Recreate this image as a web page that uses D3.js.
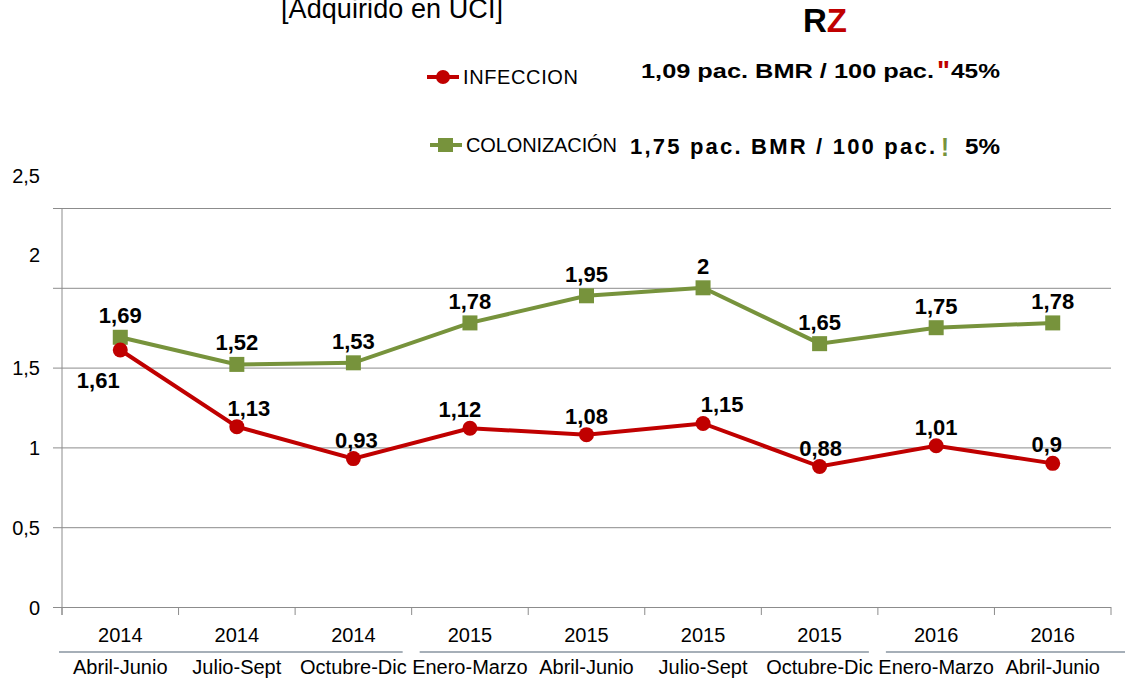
<!DOCTYPE html>
<html lang="es">

<head>
    <meta charset="UTF-8">
    <script src="https://cdnjs.cloudflare.com/ajax/libs/d3/7.9.0/d3.min.js"></script>
    <title>Infeccion / Colonizacion BMR</title>
    <style>
        body {
            margin: 0;
            background-color: white;
            font-family: "Liberation Sans", Arial, sans-serif;
        }

        svg {
            display: block;
        }
    </style>
</head>

<body>
    <div id="content"></div>
    <script>
        const width = 1125;
        const height = 681;
        const margin = { top: 208, right: 14, bottom: 74, left: 62 };

        // data
        const periods = ["Abril-Junio", "Julio-Sept", "Octubre-Dic", "Enero-Marzo", "Abril-Junio",
            "Julio-Sept", "Octubre-Dic", "Enero-Marzo", "Abril-Junio"];
        const years = ["2014", "2014", "2014", "2015", "2015", "2015", "2015", "2016", "2016"];
        const infeccion = [1.61, 1.13, 0.93, 1.12, 1.08, 1.15, 0.88, 1.01, 0.9];
        const colonizacion = [1.69, 1.52, 1.53, 1.78, 1.95, 2, 1.65, 1.75, 1.78];
        const yTicks = [0, 0.5, 1, 1.5, 2, 2.5];
        const yearGroups = ["2014", "2015", "2016"];

        const red = "#c00000";
        const green = "#77933c";

        // hand-dragged label nudges in the original (px)
        const redLabelDx = [-22, 12, 3, -10, 0, 19, 1, 0, -6];

        const svg = d3.select("#content").append("svg")
            .attr("width", width)
            .attr("height", height);

        const keys = periods.map((p, i) => i);

        const x = d3.scaleBand()
            .domain(keys)
            .range([margin.left, width - margin.right]);

        const y = d3.scaleLinear()
            .domain([0, 2.5])
            .range([height - margin.bottom, margin.top]);

        const fmt = v => String(v).replace(".", ",");
        const cx = i => x(i) + x.bandwidth() / 2;

        // gridlines + y axis
        const yAxis = svg.append("g")
            .attr("transform", `translate(${margin.left},0)`)
            .call(d3.axisLeft(y).tickValues(yTicks).tickFormat(fmt)
                .tickSize(-(width - margin.left - margin.right)).tickPadding(22));
        yAxis.select(".domain").remove();
        yAxis.selectAll(".tick line")
            .attr("x1", -9)
            .attr("stroke", "#8c8c8c");
        yAxis.selectAll(".tick text")
            .attr("font-size", 20)
            .attr("font-family", "'Liberation Sans', Arial, sans-serif")
            .attr("fill", "#000")
            // the top two labels sit higher in the original
            .attr("dy", d => d >= 2 ? "-1.3em" : "0.35em");
        svg.append("line")
            .attr("x1", margin.left).attr("x2", margin.left)
            .attr("y1", y(2.5)).attr("y2", y(0) + 8)
            .attr("stroke", "#8c8c8c");

        // x axis: category boundary ticks
        const edges = keys.map(k => x(k)).concat([x(keys[keys.length - 1]) + x.bandwidth()]);
        svg.append("g").selectAll("line")
            .data(edges)
            .enter()
            .append("line")
            .attr("x1", d => d).attr("x2", d => d)
            .attr("y1", y(0)).attr("y2", y(0) + 8)
            .attr("stroke", "#8c8c8c");

        // year labels
        svg.append("g").selectAll("text")
            .data(years)
            .enter()
            .append("text")
            .attr("x", (d, i) => cx(i))
            .attr("y", 642)
            .attr("text-anchor", "middle")
            .attr("font-size", 20)
            .text(d => d);

        // year group separators
        const groupSpan = g => {
            const idx = years.map((yv, i) => yv === g ? i : -1).filter(i => i >= 0);
            return [x(idx[0]), x(idx[idx.length - 1]) + x.bandwidth()];
        };
        svg.append("g").selectAll("line")
            .data(yearGroups)
            .enter()
            .append("line")
            .attr("x1", (g, i) => groupSpan(g)[0] + (i === 0 ? -3 : 8))
            .attr("x2", (g, i) => i === yearGroups.length - 1 ? width : groupSpan(g)[1] - 9)
            .attr("y1", 652).attr("y2", 652)
            .attr("stroke", "#4f6073")
            .attr("stroke-width", 1.2);

        // period labels
        svg.append("g").selectAll("text")
            .data(periods)
            .enter()
            .append("text")
            .attr("x", (d, i) => cx(i))
            .attr("y", 674)
            .attr("text-anchor", "middle")
            .attr("font-size", 20)
            .text(d => d);

        const line = d3.line()
            .x((d, i) => cx(i))
            .y(d => y(d));

        // colonizacion series
        svg.append("path")
            .datum(colonizacion)
            .attr("fill", "none")
            .attr("stroke", green)
            .attr("stroke-width", 4)
            .attr("d", line);
        svg.append("g").selectAll("rect")
            .data(colonizacion)
            .enter()
            .append("rect")
            .attr("x", (d, i) => cx(i) - 7.5)
            .attr("y", d => y(d) - 7.5)
            .attr("width", 15)
            .attr("height", 15)
            .attr("fill", green);

        // infeccion series
        svg.append("path")
            .datum(infeccion)
            .attr("fill", "none")
            .attr("stroke", red)
            .attr("stroke-width", 4)
            .attr("d", line);
        svg.append("g").selectAll("circle")
            .data(infeccion)
            .enter()
            .append("circle")
            .attr("cx", (d, i) => cx(i))
            .attr("cy", d => y(d))
            .attr("r", 7.5)
            .attr("fill", red);

        // data labels
        svg.append("g").selectAll("text")
            .data(colonizacion)
            .enter()
            .append("text")
            .attr("x", (d, i) => cx(i))
            .attr("y", d => y(d) - 14)
            .attr("text-anchor", "middle")
            .attr("font-size", 22)
            .attr("font-weight", "bold")
            .text(fmt);
        svg.append("g").selectAll("text")
            .data(infeccion)
            .enter()
            .append("text")
            .attr("x", (d, i) => cx(i) + redLabelDx[i])
            .attr("y", (d, i) => i === 0 ? y(d) + 38 : y(d) - 11)
            .attr("text-anchor", "middle")
            .attr("font-size", 22)
            .attr("font-weight", "bold")
            .text(fmt);

        // title fragments
        svg.append("text")
            .attr("x", 281).attr("y", 18)
            .attr("font-size", 27)
            .attr("textLength", 222)
            .text("[Adquirido en UCI]");

        const rz = svg.append("text")
            .attr("x", 825).attr("y", 32)
            .attr("text-anchor", "middle")
            .attr("font-size", 33)
            .attr("font-weight", "bold");
        rz.append("tspan").text("R");
        rz.append("tspan").attr("fill", red).text("Z");

        // legend
        svg.append("line")
            .attr("x1", 427).attr("x2", 459).attr("y1", 77).attr("y2", 77)
            .attr("stroke", red).attr("stroke-width", 4);
        svg.append("circle")
            .attr("cx", 443).attr("cy", 77).attr("r", 7).attr("fill", red);
        svg.append("text")
            .attr("x", 463).attr("y", 84)
            .attr("font-size", 20)
            .attr("textLength", 115)
            .text("INFECCION");

        svg.append("line")
            .attr("x1", 430).attr("x2", 462).attr("y1", 145).attr("y2", 145)
            .attr("stroke", green).attr("stroke-width", 4);
        svg.append("rect")
            .attr("x", 438).attr("y", 138).attr("width", 15).attr("height", 14).attr("fill", green);
        svg.append("text")
            .attr("x", 466).attr("y", 152)
            .attr("font-size", 20)
            .attr("textLength", 151)
            .text("COLONIZACIÓN");

        // summary rates
        const boldText = (xPos, yPos, len, str, fill, size, adjust) => svg.append("text")
            .attr("x", xPos).attr("y", yPos)
            .attr("font-size", size || 21)
            .attr("font-weight", "bold")
            .attr("fill", fill || "#000")
            .attr("textLength", len)
            .attr("lengthAdjust", adjust || "spacingAndGlyphs")
            .text(str);

        boldText(641, 78, 293, "1,09 pac. BMR / 100 pac.");
        boldText(937, 80, 13, "\"", red, 28);
        boldText(951, 78, 49, "45%");

        boldText(630, 154, 305, "1,75 pac. BMR / 100 pac.", null, 22, "spacing");
        boldText(941, 156, 8, "!", green, 26);
        boldText(965, 154, 35, "5%", null, 22);
    </script>

</body>

</html>
